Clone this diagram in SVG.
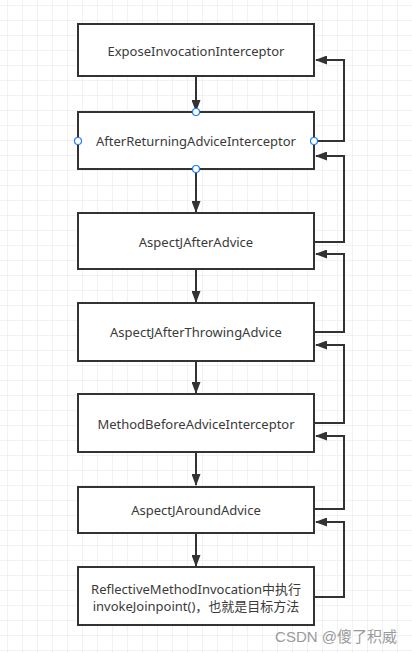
<svg xmlns="http://www.w3.org/2000/svg" width="412" height="653" viewBox="0 0 412 653">
<defs>
<pattern id="grid" x="7" y="5" width="15" height="15" patternUnits="userSpaceOnUse">
<path d="M0 0H15M0 0V15" fill="none" stroke="#e6e6e6" stroke-width="1"/>
</pattern>
<marker id="ah" viewBox="0 0 12 9" refX="11" refY="4.5" markerWidth="6" markerHeight="4.5" markerUnits="strokeWidth" orient="auto">
<path d="M0 0L12 4.5L0 9Z" fill="#333"/>
</marker>
<style>
.box{fill:#fff;stroke:#333;stroke-width:2}
.lbl{font-family:"Noto Sans","Liberation Sans",sans-serif;font-size:13px;fill:#3a3a3a;text-anchor:middle;dominant-baseline:central}
.cjk{font-family:"Noto Sans","Noto Sans CJK SC",sans-serif}
.con{fill:none;stroke:#333;stroke-width:2;marker-end:url(#ah)}
.pt{fill:#fff;stroke:#1e7bff;stroke-width:1.2}
</style>
</defs>
<rect width="412" height="653" fill="#fff"/>
<rect width="412" height="653" fill="url(#grid)"/>
<g id="connectors">
<path class="con" d="M196 77V111"/>
<path class="con" d="M196 170V212"/>
<path class="con" d="M196 270V302"/>
<path class="con" d="M196 362V393"/>
<path class="con" d="M196 453V485"/>
<path class="con" d="M196 534V566"/>
<path class="con" d="M315 141H344V60H316"/>
<path class="con" d="M315 242H344V156H316"/>
<path class="con" d="M315 332H344V254H316"/>
<path class="con" d="M315 423H344V345H316"/>
<path class="con" d="M315 509H344V436H316"/>
<path class="con" d="M315 597H344V522H316"/>
</g>
<g id="n1"><rect class="box" x="78" y="24" width="236" height="52"/><text class="lbl" x="196" y="51">ExposeInvocationInterceptor</text></g>
<g id="n2"><rect class="box" x="78" y="112" width="236" height="57"/><text class="lbl" x="196" y="141">AfterReturningAdviceInterceptor</text>
<circle class="pt" cx="196" cy="112" r="3.5"/><circle class="pt" cx="196" cy="169" r="3.5"/><circle class="pt" cx="78" cy="141" r="3.5"/><circle class="pt" cx="314" cy="141" r="3.5"/></g>
<g id="n3"><rect class="box" x="78" y="213" width="236" height="56"/><text class="lbl" x="196" y="242">AspectJAfterAdvice</text></g>
<g id="n4"><rect class="box" x="78" y="303" width="236" height="58"/><text class="lbl" x="196" y="332">AspectJAfterThrowingAdvice</text></g>
<g id="n5"><rect class="box" x="78" y="394" width="236" height="58"/><text class="lbl" x="196" y="424">MethodBeforeAdviceInterceptor</text></g>
<g id="n6"><rect class="box" x="78" y="487" width="236" height="46"/><text class="lbl" x="196" y="510">AspectJAroundAdvice</text></g>
<g id="n7"><rect class="box" x="78" y="567" width="236" height="58"/>
<text class="lbl cjk" x="196" y="589">ReflectiveMethodInvocation中执行</text>
<text class="lbl cjk" x="196" y="606">invokeJoinpoint()，也就是目标方法</text></g>
<text x="397" y="636" font-family="'Liberation Sans','Noto Sans CJK SC',sans-serif" font-size="15" fill="#9a9a9a" text-anchor="end" dominant-baseline="central">CSDN @傻了积威</text>
</svg>
